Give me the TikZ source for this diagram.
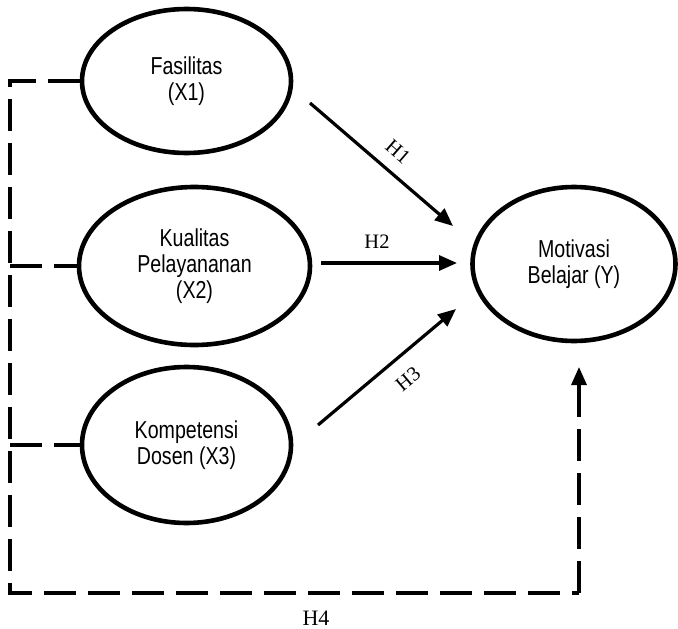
\documentclass[tikz,border=0pt]{standalone}
\usepackage{fontspec}
\setmainfont{Liberation Sans}
\newfontfamily\narrowf[FakeStretch=0.8]{Liberation Sans}
\newfontfamily\serifH{Liberation Serif}
\usetikzlibrary{shapes.geometric,arrows.meta}
\begin{document}
\begin{tikzpicture}[x=1pt,y=-1pt,
  var/.style={ellipse,draw,line width=4.6pt,inner sep=0pt,align=center,
    font=\narrowf\fontsize{24.5}{26}\selectfont},
  hyp/.style={line width=3.2pt,-{Triangle[length=18pt,width=15pt]}},
  hlab/.style={font=\serifH\fontsize{20.5}{24}\selectfont,inner sep=0pt},
  dsh/.style={line width=3.2pt,dash pattern=on 32pt off 12pt}]
\useasboundingbox (0,0) rectangle (678,629);
\node[var,minimum width=209pt,minimum height=144pt] (x1) at (186.5,81) {Fasilitas\\(X1)};
\node[var,minimum width=231pt,minimum height=158pt] (x2) at (194.5,266) {Kualitas\\Pelayananan\\(X2)};
\node[var,minimum width=209pt,minimum height=156pt] (x3) at (186.5,445) {Kompetensi\\Dosen (X3)};
\node[var,minimum width=203pt,minimum height=154pt] (y) at (574,264) {Motivasi\\Belajar (Y)};
% connector end points
\coordinate (h1s) at (310,103);
\coordinate (h1e) at (453,226);
\coordinate (h2s) at (321,263);
\coordinate (h2e) at (457,263);
\coordinate (h3s) at (318,425);
\coordinate (h3e) at (456,309);
\coordinate (c1) at (10,81);
\coordinate (c2) at (10,266);
\coordinate (c3) at (10,445);
\coordinate (cb) at (10,593);
\coordinate (cr) at (579,593);
\coordinate (h4e) at (579,367);
\draw[hyp] (h1s) -- (h1e);
\draw[hyp] (h2s) -- (h2e);
\draw[hyp] (h3s) -- (h3e);
\node[hlab,rotate=-41] (l1) at (398,152) {H1};
\node[hlab] (l2) at (377,242) {H2};
\node[hlab,rotate=40] (l3) at (408,379) {H3};
\node[hlab,font=\serifH\fontsize{22}{26}\selectfont] (l4) at (316,618) {H4};
\draw[dsh] (x1.west) -- (c1) -- (cb) -- (cr);
\draw[dsh,-{Triangle[length=18pt,width=15pt]}] (cr) -- (h4e);
\draw[dsh] (c2) -- (x2.west);
\draw[dsh] (c3) -- (x3.west);
\end{tikzpicture}
\end{document}
